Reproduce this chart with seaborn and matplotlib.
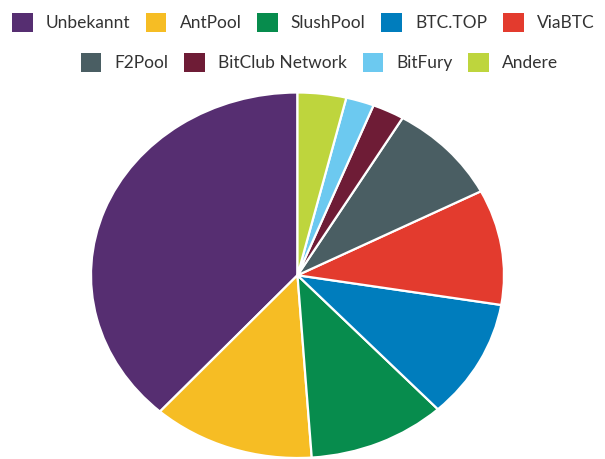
import matplotlib
matplotlib.use("Agg")
import matplotlib.pyplot as plt
import seaborn as sns
from matplotlib.patches import Patch

categories = ["Unbekannt", "AntPool", "SlushPool", "BTC.TOP", "ViaBTC",
              "F2Pool", "BitClub Network", "BitFury", "Andere"]
shares = [38.4, 12.7, 10.8, 10.5, 10.2, 8.9, 2.5, 2.2, 3.8]
colors = ["#562E71", "#F6BD24", "#078C4D", "#007DBD", "#E33B2E",
          "#4A5E63", "#6E1C36", "#6CC9F0", "#BED53D"]

sns.set_theme(style="white")
plt.rcParams["font.family"] = ["Lato", "DejaVu Sans"]
palette = sns.color_palette(colors)

fig = plt.figure(figsize=(6.05, 4.59), dpi=100)
W, H = 605, 459
ax = fig.add_axes([91 / W, 1 / H, 413 / W, 365.5 / H])
ax.pie(shares, colors=palette, startangle=90, counterclock=True,
       wedgeprops=dict(edgecolor="white", linewidth=1.6), radius=1.0)
ax.set_aspect("auto")
ax.set_xlim(-1, 1)
ax.set_ylim(-1, 1)
ax.axis("off")

handles = [Patch(facecolor=c, edgecolor="none") for c in palette]
common = dict(frameon=False, fontsize=12.5, handlelength=1.2, handleheight=1.35,
              handletextpad=0.75, columnspacing=0.9, borderpad=0, borderaxespad=0)
leg1 = fig.legend(handles[:5], categories[:5], ncol=5, loc="center",
                  bbox_to_anchor=(303 / W, 1 - 22.5 / H), **common)
for t in leg1.get_texts():
    t.set_color("#333333")
leg2 = fig.legend(handles[5:], categories[5:], ncol=4, loc="center",
                  bbox_to_anchor=(319.5 / W, 1 - 62.5 / H), **common)
for t in leg2.get_texts():
    t.set_color("#333333")

fig.savefig("out.png", dpi=100)
